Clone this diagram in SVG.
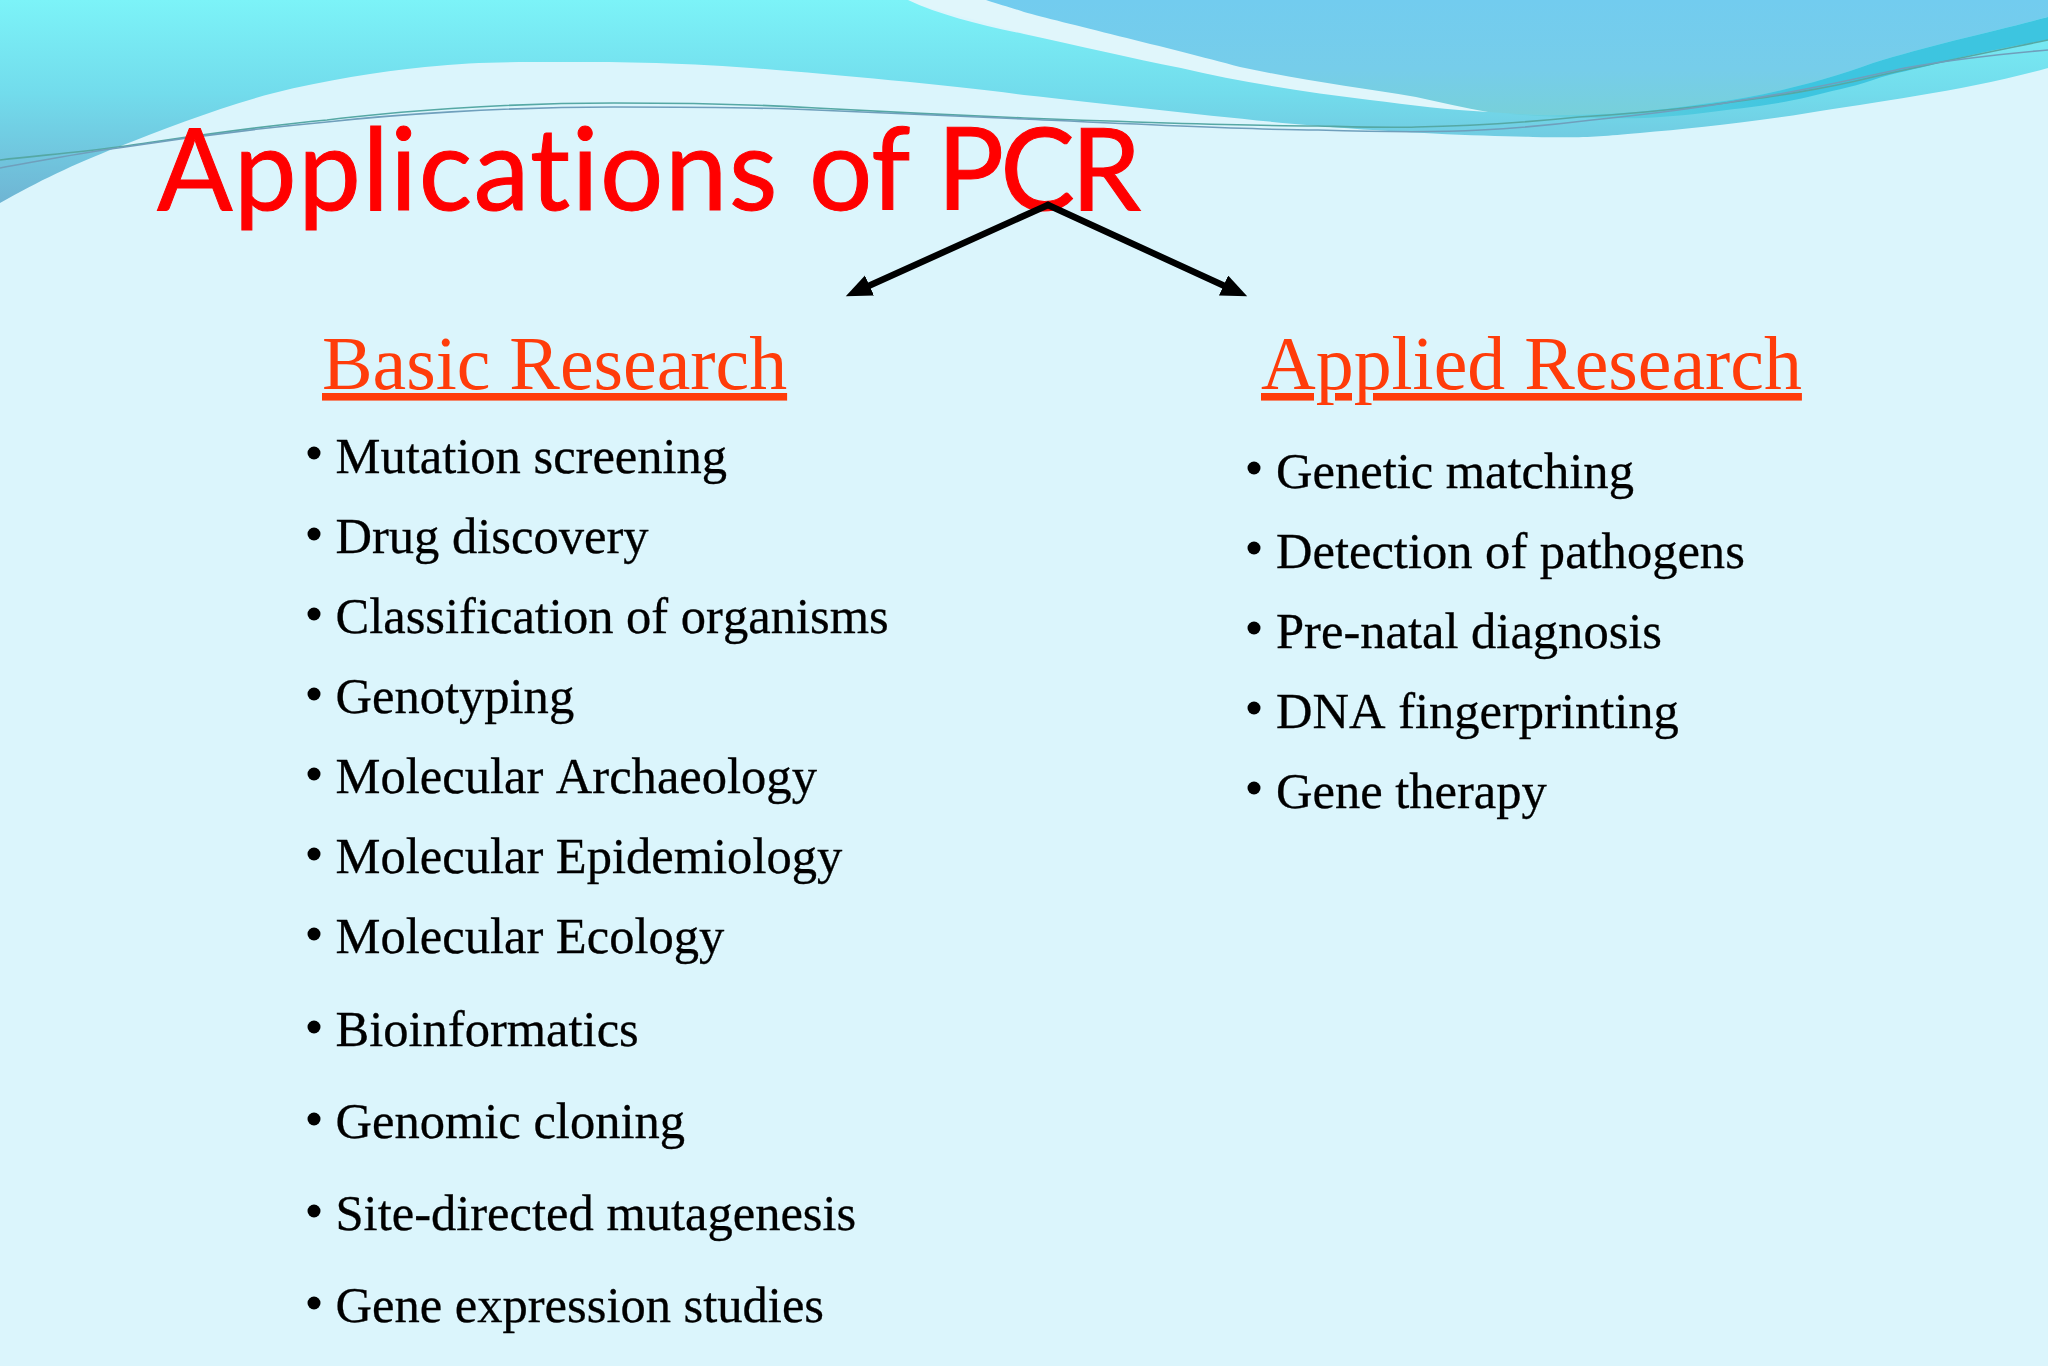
<svg xmlns="http://www.w3.org/2000/svg" width="2048" height="1366" viewBox="0 0 2048 1366">
<style>
.title{font-family:"Lato","Open Sans","Liberation Sans",sans-serif;font-size:114px;fill:#ff0000;stroke:#ff0000;stroke-width:1px;font-variant-ligatures:none}
.head{font-family:"Liberation Serif",serif;font-size:75.8px;fill:#ff3c0a;text-decoration:underline;text-decoration-thickness:4.5px;text-underline-offset:5px;font-kerning:none}
.item{font-family:"Liberation Serif",serif;font-size:50.56px;fill:#000;stroke:#000;stroke-width:.3px;font-kerning:none}
.dot{fill:#000}
.wire{fill:none;stroke-width:1.6}
.arrow{fill:none;stroke:#000;stroke-width:6.5;stroke-linecap:round;marker-end:url(#ah)}
</style>
<defs>
<linearGradient id="cy" x1="0" y1="0" x2="0" y2="205" gradientUnits="userSpaceOnUse"><stop offset="0" stop-color="#7cf3f8"/><stop offset="0.45" stop-color="#72dcec"/><stop offset="1" stop-color="#6fb4d3"/></linearGradient>
<linearGradient id="bl" x1="0" y1="0" x2="0" y2="115" gradientUnits="userSpaceOnUse"><stop offset="0" stop-color="#72ccef"/><stop offset="0.6" stop-color="#76cdea"/><stop offset="1" stop-color="#77d0da"/></linearGradient>
<linearGradient id="tl" x1="1500" y1="0" x2="1800" y2="0" gradientUnits="userSpaceOnUse"><stop offset="0" stop-color="#70d2de"/><stop offset="1" stop-color="#3dc5e0"/></linearGradient>
<marker id="ah" markerUnits="userSpaceOnUse" markerWidth="28" markerHeight="24" refX="6" refY="11" orient="auto"><path d="M0,0 L26,11 L0,22 Z" fill="#000"/></marker>
</defs>
<rect id="bg" width="2048" height="1366" fill="#dbf5fc"/>
<g id="waves">
<path fill="#e0f6fb" d="M900,0 L2048,0 L2048,60 L1500,120 L1200,80 Z"/>
<path fill="url(#cy)" d="M0,0 L908,0 C940,15 980,25 1024,34 C1080,46 1130,58 1181,68 C1240,82 1305,92 1370,100 C1410,105 1450,110 1488,112 L2048,17 L2048,68 C1970,90 1876,102 1808,113 C1740,124 1686,129 1640,133 C1594,137 1587,138 1533,137 C1482,136 1403,133 1318,126 C1233,119 1118,105 1024,95 C946,85 829,74 751,68 C673,62 609,62 555,62 C501,62 472,62 425,67 C378,72 325,80 274,93 C223,106 164,129 118,147 C72,165 39,181 0,203 Z"/>
<path fill="url(#bl)" d="M986,0 L2048,0 L2048,17 C2000,30 1930,45 1873,63 C1820,82 1770,95 1710,103 C1660,110 1620,115 1560,115 C1540,116 1520,114 1488,112 C1465,108 1440,102 1416,97 C1360,88 1300,80 1240,67 C1170,48 1060,22 1024,12 C1010,7 1000,5 986,0 Z"/>
<path fill="url(#tl)" d="M1500,113 C1520,114 1540,116 1560,115 C1620,115 1660,110 1710,103 C1770,95 1820,82 1873,63 C1930,45 2000,30 2048,17 L2048,40 C2000,48 1970,55 1938,63 C1915,70 1895,72 1873,80 C1850,88 1830,91 1808,97 C1770,106 1740,108 1703,113 C1670,117 1640,119 1612,118 C1570,118 1530,116 1500,113 Z"/>
</g>
<g id="wires">
<path class="wire" stroke="#55a8a4" d="M0,160 C45,155 80,152 118,147 C150,143 240,128 327,120 C390,112 500,103 614,103 C690,103 750,104 816,108 C890,112 950,115 1024,118 C1130,122 1250,126 1318,126 C1360,127 1390,128 1416,127 C1480,126 1530,122 1579,117 C1630,114 1670,110 1710,105 C1770,97 1820,90 1873,77 C1930,64 1990,52 2048,40"/>
<path class="wire" stroke="#6f9fbc" d="M0,168 C45,160 80,153 118,148 C150,143 240,130 327,122 C390,115 500,107 614,107 C690,107 750,107 816,110 C890,113 950,116 1024,119 C1130,124 1250,130 1318,130 C1380,132 1430,133 1481,130 C1520,128 1560,124 1592,120 C1650,114 1700,108 1742,100 C1800,92 1850,80 1905,68 C1960,58 2000,54 2048,50"/>
</g>
<g id="title"><text class="title" x="157" y="210" textLength="980" lengthAdjust="spacingAndGlyphs"><tspan letter-spacing="1.6px">Applications </tspan><tspan>of </tspan><tspan letter-spacing="-4px">PCR</tspan></text></g>
<g id="connectors">
<path class="arrow" d="M1048,205 L864,288"/>
<path class="arrow" d="M1048,205 L1229,288"/>
</g>
<g id="basic">
<text class="head" x="322" y="389">Basic Research</text>
<circle class="dot" cx="314" cy="453" r="6.5"/><text class="item" x="335.5" y="473">Mutation screening</text>
<circle class="dot" cx="314" cy="534" r="6.5"/><text class="item" x="335.5" y="553">Drug discovery</text>
<circle class="dot" cx="314" cy="614" r="6.5"/><text class="item" x="335.5" y="633">Classification of organisms</text>
<circle class="dot" cx="314" cy="694" r="6.5"/><text class="item" x="335.5" y="713">Genotyping</text>
<circle class="dot" cx="314" cy="774" r="6.5"/><text class="item" x="335.5" y="793">Molecular Archaeology</text>
<circle class="dot" cx="314" cy="854" r="6.5"/><text class="item" x="335.5" y="873">Molecular Epidemiology</text>
<circle class="dot" cx="314" cy="934" r="6.5"/><text class="item" x="335.5" y="953">Molecular Ecology</text>
<circle class="dot" cx="314" cy="1027" r="6.5"/><text class="item" x="335.5" y="1046">Bioinformatics</text>
<circle class="dot" cx="314" cy="1119" r="6.5"/><text class="item" x="335.5" y="1138">Genomic cloning</text>
<circle class="dot" cx="314" cy="1211" r="6.5"/><text class="item" x="335.5" y="1230">Site-directed mutagenesis</text>
<circle class="dot" cx="314" cy="1303" r="6.5"/><text class="item" x="335.5" y="1322">Gene expression studies</text>
</g>
<g id="applied">
<text class="head" x="1261" y="389">Applied Research</text>
<circle class="dot" cx="1254" cy="468" r="6.5"/><text class="item" x="1276" y="488">Genetic matching</text>
<circle class="dot" cx="1254" cy="548" r="6.5"/><text class="item" x="1276" y="568">Detection of pathogens</text>
<circle class="dot" cx="1254" cy="628" r="6.5"/><text class="item" x="1276" y="648">Pre-natal diagnosis</text>
<circle class="dot" cx="1254" cy="708" r="6.5"/><text class="item" x="1276" y="728">DNA fingerprinting</text>
<circle class="dot" cx="1254" cy="788" r="6.5"/><text class="item" x="1276" y="808">Gene therapy</text>
</g>
</svg>
